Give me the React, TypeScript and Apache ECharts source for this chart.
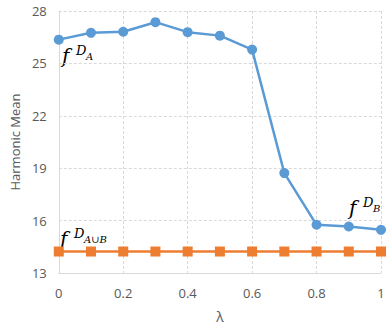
import React, { useEffect, useRef } from "react";
import * as echarts from "echarts";

const lambdas = [0, 0.1, 0.2, 0.3, 0.4, 0.5, 0.6, 0.7, 0.8, 0.9, 1.0];
const fDA = [26.36, 26.75, 26.81, 27.36, 26.79, 26.59, 25.79, 18.72, 15.76, 15.66, 15.47];
const fDAuB = [14.23, 14.23, 14.23, 14.23, 14.23, 14.23, 14.23, 14.23, 14.23, 14.23, 14.23];
const xTicks = ["0", "0.2", "0.4", "0.6", "0.8", "1"];

const FONT = "Open Sans";
const MATH = "DejaVu Serif";

function mathLabel(x: number, y: number, sub: string) {
  return [
    { type: "text", left: x, top: y, style: { text: "f", font: `italic 20px "${MATH}"`, fill: "#000" } },
    { type: "text", left: x + 14, top: y - 2, style: { text: "D", font: `italic 13px "${MATH}"`, fill: "#000" } },
    { type: "text", left: x + 24, top: y + 5, style: { text: sub, font: `italic 10px "${MATH}"`, fill: "#000" } },
  ];
}

export default function App() {
  const ref = useRef<HTMLDivElement>(null);
  useEffect(() => {
    if (!ref.current) return;
    const chart = echarts.init(ref.current, undefined, { renderer: "svg" });
    chart.setOption({
      animation: false,
      grid: { left: 56, right: 9, top: 11, bottom: 52 },
      xAxis: {
        type: "value",
        min: 0,
        max: 1,
        interval: 0.2,
        name: "λ",
        nameLocation: "middle",
        nameGap: 36,
        nameTextStyle: { color: "#595959", fontSize: 14, fontFamily: FONT },
        axisLine: { show: true, lineStyle: { color: "#D9D9D9", width: 1 } },
        axisTick: { show: false },
        axisLabel: {
          color: "#595959",
          fontSize: 13,
          fontFamily: FONT,
          margin: 13,
          formatter: (v: number) => xTicks[Math.round(v / 0.2)] ?? String(v),
        },
        splitLine: { show: true, lineStyle: { color: "#D9D9D9", type: [3, 2] } },
      },
      yAxis: {
        type: "value",
        min: 13,
        max: 28,
        interval: 3,
        name: "Harmonic Mean",
        nameLocation: "middle",
        nameGap: 37,
        nameTextStyle: { color: "#595959", fontSize: 13, fontFamily: FONT },
        axisLine: { show: true, lineStyle: { color: "#D9D9D9", width: 1 } },
        axisTick: { show: false },
        axisLabel: { color: "#595959", fontSize: 13, fontFamily: FONT, margin: 12 },
        splitLine: { show: true, lineStyle: { color: "#D9D9D9", type: [3, 2] } },
      },
      series: [
        {
          type: "line",
          data: lambdas.map((l, i) => [l, fDA[i]]),
          symbol: "circle",
          symbolSize: 10,
          lineStyle: { color: "#5B9BD5", width: 2.5 },
          itemStyle: { color: "#5B9BD5" },
        },
        {
          type: "line",
          data: lambdas.map((l, i) => [l, fDAuB[i]]),
          symbol: "rect",
          symbolSize: 10,
          lineStyle: { color: "#ED7D31", width: 2.5 },
          itemStyle: { color: "#ED7D31" },
        },
      ],
      graphic: [
        ...mathLabel(62, 46, "A"),
        ...mathLabel(349, 198, "B"),
        ...mathLabel(60, 229, "A∪B"),
      ],
    });
    return () => chart.dispose();
  }, []);
  return (
    <div
      ref={ref}
      style={{ position: "absolute", left: 0, top: 0, width: 390, height: 328 }}
    />
  );
}
